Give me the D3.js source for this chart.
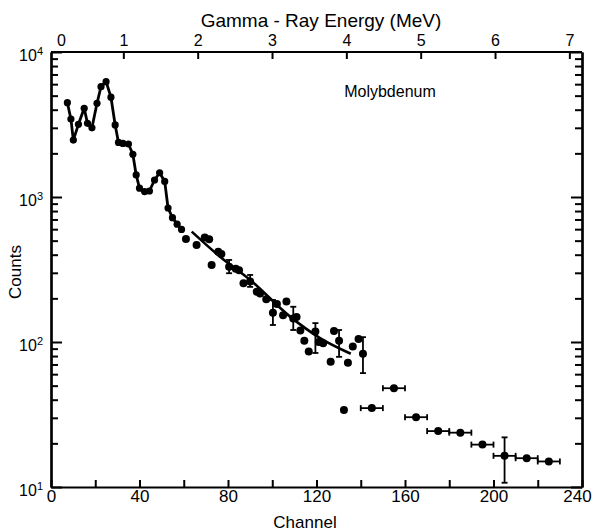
<!DOCTYPE html>
<html>
<head>
<meta charset="utf-8">
<script src="https://cdn.jsdelivr.net/npm/d3@7"></script>
<style>
    body { margin: 0; background: #fff; }
    svg { display: block; }
    text { font-family: "Liberation Sans", Arial, sans-serif; fill: #000; }
</style>
</head>
<body>
<svg id="chart"></svg>
<script>
// connected spectrum (channel, counts)
var spectrumChannels = [7.4, 9.0, 10.1, 12.4, 15.0, 16.5, 18.5, 20.8, 22.6, 24.9, 27.1, 29.0, 30.5, 32.5, 35.0, 37.0, 38.5, 40.0, 42.3, 44.5, 46.8, 49.1, 51.4, 52.9, 54.9, 57.0, 59.0];
var spectrumCounts   = [4470, 3450, 2470, 3170, 4090, 3220, 3000, 4430, 5770, 6240, 4880, 3140, 2380, 2340, 2320, 1970, 1420, 1150, 1090, 1100, 1310, 1470, 1280, 840, 720, 650, 598];

// scattered points past the spectrum
var scatterChannels = [61, 65.8, 69.5, 71.5, 72.6, 75.6, 77, 80.5, 83.5, 85, 87, 90, 93, 94.5, 97.3, 100.3, 102.1, 104.9, 106.4, 109.5, 111, 112.7, 114.5, 116.5, 119.5, 121, 123, 126.4, 127.9, 130.2, 134.2, 136.4, 139, 141, 132.4];
var scatterCounts   = [513, 467, 525, 511, 340, 420, 405, 330, 320, 312, 254, 261, 222, 216, 197, 159, 183, 153, 190, 145, 149, 120, 102, 86, 118, 100, 98, 73, 119, 102, 72, 93, 105, 83, 34];

// vertical error bars (channel, low, high)
var yErrChannels = [80.5, 90, 100.3, 109.5, 119.5, 130.2, 141];
var yErrLow      = [298, 240, 131, 121, 84, 79, 61];
var yErrHigh     = [368, 290, 195, 175, 135, 121, 108];

// binned points with horizontal error bars
var binChannels = [145, 155, 165, 175, 185, 195, 205, 215, 225];
var binCounts   = [35, 48, 30.3, 24.3, 23.7, 19.6, 16.4, 15.8, 15.0];
var binHalfWidth = 5;
var binYErrLow  = [null, null, null, null, null, null, 10.7, null, null];
var binYErrHigh = [null, null, null, null, null, null, 22, null, null];

// fitted curve
var fitChannels = [63.6, 76.4, 90, 108.2, 121.8, 135.5];
var fitCounts   = [577, 387, 268, 149, 106, 83];

// axis ticks
var channelTicks = d3.range(0, 241, 20);
var channelLabels = [0, 40, 80, 120, 160, 200, 240];
var energyTicks = [0, 1, 2, 3, 4, 5, 6, 7];
var decadeTicks = [10, 100, 1000, 10000];

var width = 595;
var height = 532;

var svg = d3.select("#chart")
    .attr("width", width)
    .attr("height", height);

var x = d3.scaleLinear().domain([0, 240]).range([51, 582]);
var y = d3.scaleLog().domain([10, 10000]).range([487, 52]);
var energy = d3.scaleLinear().domain([0, 7.17]).range([49, 582]);

var minorTicks = [];
[10, 100, 1000].forEach(function(d) {
    for (var k = 2; k <= 9; k++) minorTicks.push(d * k);
});

// frame / axes
function styleAxis(g) {
    g.selectAll("path, line").attr("stroke", "#000").attr("stroke-width", 2);
    g.select(".domain").attr("stroke-width", 2.2);
}

svg.append("g")
    .attr("transform", "translate(0," + y.range()[0] + ")")
    .call(d3.axisBottom(x).tickValues(channelTicks).tickSize(-7).tickSizeOuter(0).tickPadding(3)
        .tickFormat(function(d) { return channelLabels.indexOf(d) >= 0 ? d : ""; }))
    .call(styleAxis)
    .call(function(g) {
        g.selectAll("text").attr("font-size", 17).attr("font-family", "Liberation Sans")
            .attr("dx", function(d) { return d === 240 ? -5 : 0; });
    });

svg.append("g")
    .attr("transform", "translate(0," + y.range()[1] + ")")
    .call(d3.axisTop(energy).tickValues(energyTicks).tickSize(-7).tickSizeOuter(0).tickPadding(6))
    .call(styleAxis)
    .call(function(g) {
        g.select(".domain").attr("d", "M" + x(0) + ",0H" + x(240));
        g.selectAll("text").attr("font-size", 16).attr("font-family", "Liberation Sans")
            .attr("dx", function(d) { return d === 0 ? 12 : 0; });
        g.selectAll(".tick").filter(function(d) { return d === 0; }).select("line").remove();
    });

// left axis: decades + minors
svg.append("g")
    .attr("transform", "translate(" + x(0) + ",0)")
    .call(d3.axisLeft(y).tickValues(minorTicks).tickSize(-7).tickSizeOuter(0).tickFormat(""))
    .call(styleAxis);

var leftMajor = svg.append("g")
    .attr("transform", "translate(" + x(0) + ",0)")
    .call(d3.axisLeft(y).tickValues(decadeTicks).tickSize(-11).tickSizeOuter(0).tickPadding(8).tickFormat(""))
    .call(styleAxis);

leftMajor.selectAll(".tick text")
    .attr("font-size", 16)
    .attr("dy", "0.55em")
    .each(function(d) {
        var t = d3.select(this);
        t.append("tspan").text("10");
        t.append("tspan").attr("dy", "-0.55em").attr("font-size", 11).text(Math.round(Math.log10(d)));
    });

// right axis
svg.append("g")
    .attr("transform", "translate(" + x(240) + ",0)")
    .call(d3.axisRight(y).tickValues(minorTicks).tickSize(-7).tickSizeOuter(0).tickFormat(""))
    .call(styleAxis);

svg.append("g")
    .attr("transform", "translate(" + x(240) + ",0)")
    .call(d3.axisRight(y).tickValues(decadeTicks).tickSize(-11).tickSizeOuter(0).tickFormat(""))
    .call(styleAxis);

// spectrum line
var line = d3.line()
    .x(function(d) { return x(d[0]); })
    .y(function(d) { return y(d[1]); });

var spectrum = spectrumChannels.map(function(c, i) { return [c, spectrumCounts[i]]; });

svg.append("path")
    .datum(spectrum)
    .attr("fill", "none")
    .attr("stroke", "#000")
    .attr("stroke-width", 2.8)
    .attr("stroke-linejoin", "round")
    .attr("d", line);

svg.selectAll(".spec-dot")
    .data(spectrum)
    .enter()
    .append("circle")
    .attr("class", "spec-dot")
    .attr("cx", function(d) { return x(d[0]); })
    .attr("cy", function(d) { return y(d[1]); })
    .attr("r", 3.6);

// fitted curve
var fit = fitChannels.map(function(c, i) { return [c, fitCounts[i]]; });
svg.append("path")
    .datum(fit)
    .attr("fill", "none")
    .attr("stroke", "#000")
    .attr("stroke-width", 2.6)
    .attr("d", line.curve(d3.curveMonotoneX));

// vertical error bars
var yErr = yErrChannels.map(function(c, i) { return [c, yErrLow[i], yErrHigh[i]]; });
var errG = svg.append("g").attr("stroke", "#000").attr("stroke-width", 1.8);
yErr.forEach(function(d) {
    errG.append("line").attr("x1", x(d[0])).attr("x2", x(d[0])).attr("y1", y(d[1])).attr("y2", y(d[2]));
    errG.append("line").attr("x1", x(d[0]) - 3).attr("x2", x(d[0]) + 3).attr("y1", y(d[1])).attr("y2", y(d[1]));
    errG.append("line").attr("x1", x(d[0]) - 3).attr("x2", x(d[0]) + 3).attr("y1", y(d[2])).attr("y2", y(d[2]));
});

// scatter points
var scatter = scatterChannels.map(function(c, i) { return [c, scatterCounts[i]]; });
svg.selectAll(".scatter-dot")
    .data(scatter)
    .enter()
    .append("circle")
    .attr("class", "scatter-dot")
    .attr("cx", function(d) { return x(d[0]); })
    .attr("cy", function(d) { return y(d[1]); })
    .attr("r", 4);

// binned points
binChannels.forEach(function(c, i) {
    var cy = y(binCounts[i]);
    errG.append("line").attr("x1", x(c - binHalfWidth)).attr("x2", x(c + binHalfWidth)).attr("y1", cy).attr("y2", cy);
    errG.append("line").attr("x1", x(c - binHalfWidth)).attr("x2", x(c - binHalfWidth)).attr("y1", cy - 3).attr("y2", cy + 3);
    errG.append("line").attr("x1", x(c + binHalfWidth)).attr("x2", x(c + binHalfWidth)).attr("y1", cy - 3).attr("y2", cy + 3);
    if (binYErrLow[i] !== null) {
        errG.append("line").attr("x1", x(c)).attr("x2", x(c)).attr("y1", y(binYErrLow[i])).attr("y2", y(binYErrHigh[i]));
        errG.append("line").attr("x1", x(c) - 3).attr("x2", x(c) + 3).attr("y1", y(binYErrLow[i])).attr("y2", y(binYErrLow[i]));
        errG.append("line").attr("x1", x(c) - 3).attr("x2", x(c) + 3).attr("y1", y(binYErrHigh[i])).attr("y2", y(binYErrHigh[i]));
    }
    svg.append("circle").attr("cx", x(c)).attr("cy", cy).attr("r", 4);
});

// labels
svg.append("text")
    .attr("x", 321)
    .attr("y", 27)
    .attr("text-anchor", "middle")
    .attr("font-size", 19)
    .text("Gamma - Ray Energy (MeV)");

svg.append("text")
    .attr("x", 305)
    .attr("y", 528)
    .attr("text-anchor", "middle")
    .attr("font-size", 17)
    .text("Channel");

svg.append("text")
    .attr("transform", "translate(21,272) rotate(-90)")
    .attr("text-anchor", "middle")
    .attr("font-size", 17)
    .text("Counts");

svg.append("text")
    .attr("x", 390)
    .attr("y", 97)
    .attr("text-anchor", "middle")
    .attr("font-size", 16)
    .text("Molybdenum");
</script>
</body>
</html>
